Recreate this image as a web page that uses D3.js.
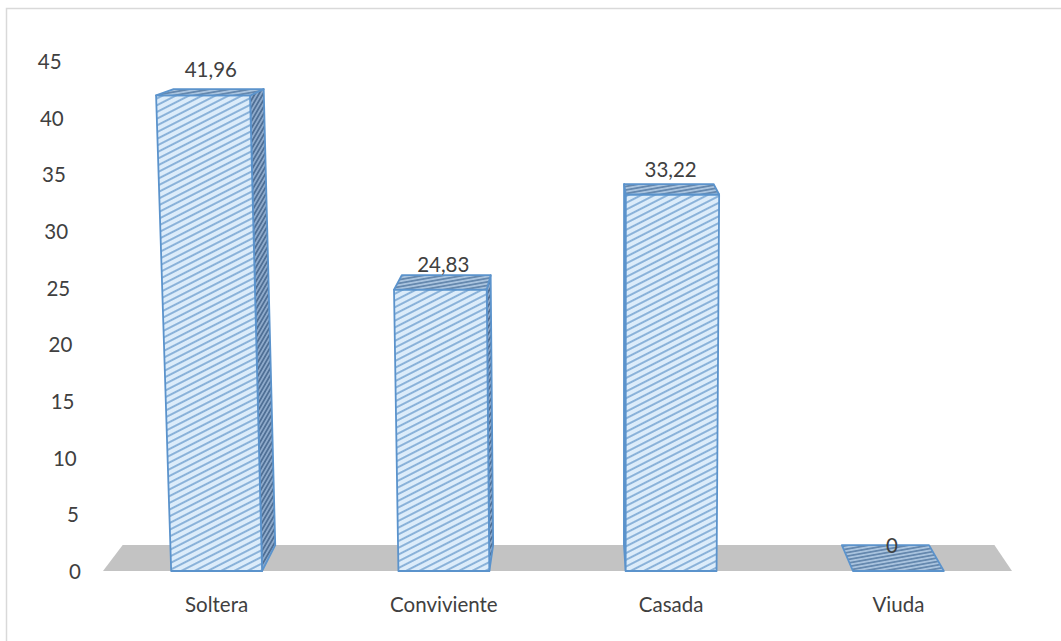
<!DOCTYPE html>
<html>
<head>
<meta charset="utf-8">
<script src="https://cdn.jsdelivr.net/npm/d3@7"></script>
<style>
  html, body { margin: 0; padding: 0; background: #fff; }
  svg { display: block; }
  text { font-family: Lato, "Open Sans", sans-serif; fill: #404040; }
</style>
</head>
<body>
<div id="chart"></div>
<script>
// ---- Data ----
const categories = ["Soltera", "Conviviente", "Casada", "Viuda"];
const values = [41.96, 24.83, 33.22, 0];
const valueLabels = ["41,96", "24,83", "33,22", "0"];
const tickValues = [0, 5, 10, 15, 20, 25, 30, 35, 40, 45];

// ---- Layout ----
const W = 1061, H = 641;
const FS = 20.5;
const svg = d3.select("#chart").append("svg").attr("width", W).attr("height", H);

// outer border
svg.append("rect").attr("x", 6.5).attr("y", 8.5).attr("width", W).attr("height", H)
  .attr("fill", "none").attr("stroke", "#d9d9d9").attr("stroke-width", 1.5);

const floorLeft = 103, floorRight = 1012;
const y = d3.scaleLinear().domain([0, 45]).range([571, 61]);
const x = d3.scaleBand().domain(categories).range([floorLeft, floorRight])
  .paddingInner(0.6).paddingOuter(0.3);

// perspective helpers
const cx = 620, persp = 7.07e-5, y0 = y(0);
const vp = [583, -61], depthF = 0.041;
function P(bx, v, d) {
  let sy = y(v);
  const k = 1 + persp * (y0 - sy);
  let sx = cx + (bx - cx) * k;
  sx += (vp[0] - sx) * depthF * d;
  sy += (vp[1] - sy) * depthF * d;
  return [sx, sy];
}
const poly = pts => pts.map(p => p.join(",")).join(" ");

// ---- Patterns ----
const defs = svg.append("defs");
function hatch(id, bg, fg, sw, gap, angle) {
  const p = defs.append("pattern").attr("id", id).attr("patternUnits", "userSpaceOnUse")
    .attr("width", 10).attr("height", gap).attr("patternTransform", `rotate(${angle})`);
  p.append("rect").attr("width", 10).attr("height", gap).attr("fill", bg);
  p.append("line").attr("x1", 0).attr("x2", 10).attr("y1", gap / 2).attr("y2", gap / 2)
    .attr("stroke", fg).attr("stroke-width", sw);
}
hatch("hFront", "#dcecfa", "#6e9fcf", 1.5, 6, -27);
hatch("hTop", "#a9c3de", "#5f82aa", 1.6, 3.5, -10);
hatch("hSide", "#8eaacb", "#4f6f95", 1.8, 3.5, -60);

// ---- Floor ----
svg.append("polygon")
  .attr("points", poly([P(floorLeft, 0, 0), P(floorRight, 0, 0), P(floorRight, 0, 1), P(floorLeft, 0, 1)]))
  .attr("fill", "#c3c3c3");

// ---- Y tick labels ----
svg.append("g").selectAll("text").data(tickValues).join("text")
  .attr("x", d => P(81, d, 0)[0])
  .attr("y", d => y(d))
  .attr("text-anchor", "end")
  .attr("dominant-baseline", "central")
  .attr("font-size", FS)
  .text(d => d);

// ---- Bars ----
const stroke = "#5b93cc";
const bars = svg.append("g");
categories.forEach((c, i) => {
  const v = values[i];
  const b0 = x(c), b1 = x(c) + x.bandwidth();
  const F0b = P(b0, 0, 0), F1b = P(b1, 0, 0), F0t = P(b0, v, 0), F1t = P(b1, v, 0);
  const B0b = P(b0, 0, 1), B1b = P(b1, 0, 1), B0t = P(b0, v, 1), B1t = P(b1, v, 1);
  const g = bars.append("g").attr("stroke", stroke).attr("stroke-width", 1.8).attr("stroke-linejoin", "round");
  if (v > 0) {
    if (B1t[0] > F1t[0] + 0.5) {
      g.append("polygon").attr("points", poly([F1b, F1t, B1t, B1b])).attr("fill", "url(#hSide)");
    }
    if (B0t[0] < F0t[0] - 0.5) {
      g.append("polygon").attr("points", poly([F0b, F0t, B0t, B0b])).attr("fill", "url(#hSide)");
    }
    g.append("polygon").attr("points", poly([F0b, F1b, F1t, F0t])).attr("fill", "url(#hFront)");
  }
  g.append("polygon").attr("points", poly([F0t, F1t, B1t, B0t])).attr("fill", "url(#hTop)");

  // value label
  const lx = (F0t[0] + F1t[0] + B0t[0] + B1t[0]) / 4;
  bars.append("text").attr("x", lx).attr("y", y(v) - 18)
    .attr("text-anchor", "middle").attr("font-size", FS).text(valueLabels[i]);
});

// ---- Category labels ----
svg.append("g").selectAll("text").data(categories).join("text")
  .attr("x", d => x(d) + x.bandwidth() / 2)
  .attr("y", 604)
  .attr("text-anchor", "middle")
  .attr("dominant-baseline", "central")
  .attr("font-size", FS)
  .text(d => d);
</script>
</body>
</html>
